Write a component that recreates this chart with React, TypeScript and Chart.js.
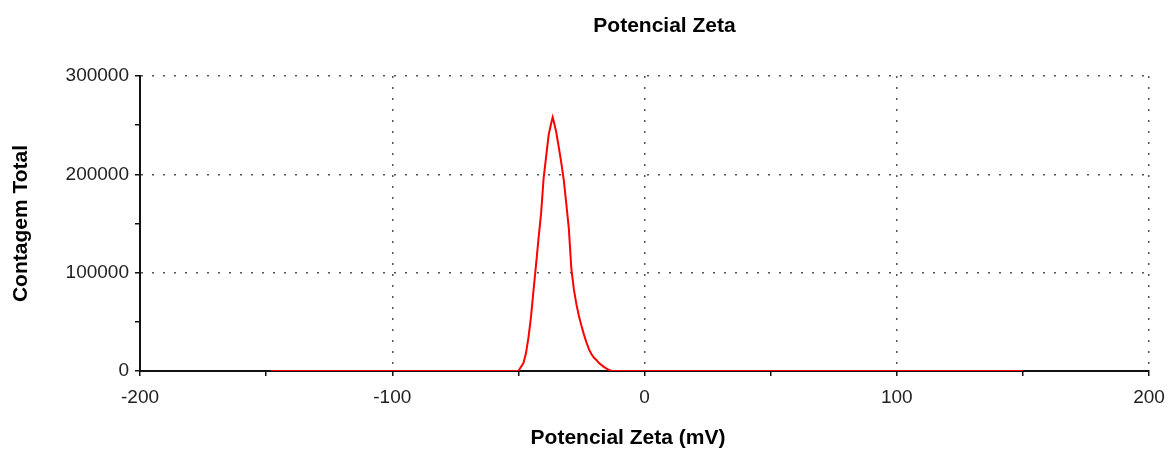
import React, { useEffect, useRef } from "react";
import { Chart, registerables } from "chart.js";

Chart.register(...registerables);

// Zeta potential distribution (mV) and total count per channel
const zetaPotential: number[] = [
  -148, -50, -48, -47, -46, -45, -44, -43, -42, -41, -40, -39, -38, -37, -36.4,
  -36, -35, -34, -33, -32, -31, -30, -29, -28, -27, -26, -25, -24, -23, -22,
  -21, -20, -19, -18, -17, -16, -15, -14, -13, 150,
];
const totalCount: number[] = [
  0, 0, 8000, 18000, 34000, 55000, 82000, 108000, 135000, 160000, 196000,
  218000, 240000, 252000, 258000, 254000, 243000, 228000, 212000, 194000,
  170000, 145000, 104000, 83000, 68000, 56000, 46000, 37000, 29000, 22000,
  17000, 13500, 11000, 8000, 6000, 4000, 2500, 1000, 0, 0,
];

const xTicks: number[] = [-200, -150, -100, -50, 0, 50, 100, 150, 200];
const yTicks: number[] = [0, 50000, 100000, 150000, 200000, 250000, 300000];

const chartTitle = "Potencial Zeta";
const xTitle = "Potencial Zeta (mV)";
const yTitle = "Contagem Total";

const FONT = '"Liberation Sans", Arial, sans-serif';

// Left edges of the top title and the bottom caption blocks (their right edge is the plot's right)
const TITLE_BLOCK_LEFT = 180;
const CAPTION_BLOCK_LEFT = 107;

const shiftTitles = {
  id: "shiftTitles",
  afterLayout(chart: any) {
    if (chart.titleBlock) chart.titleBlock.left = TITLE_BLOCK_LEFT;
    const caption = chart.boxes.find(
      (b: any) => b !== chart.titleBlock && b.options && b.options.text === xTitle
    );
    if (caption) caption.left = CAPTION_BLOCK_LEFT;
  },
};

export default function App() {
  const canvasRef = useRef<HTMLCanvasElement | null>(null);

  useEffect(() => {
    const canvas = canvasRef.current;
    if (!canvas) return;

    const points = zetaPotential.map((x, i) => ({ x, y: totalCount[i] }));
    const titleFont = { family: FONT, size: 21, weight: "bold", lineHeight: 1.2 };

    const chart = new Chart(canvas, {
      type: "line",
      data: {
        datasets: [
          {
            data: points,
            borderColor: "rgb(255,0,0)",
            borderWidth: 2,
            pointRadius: 0,
            tension: 0,
            fill: false,
          },
        ],
      },
      plugins: [shiftTitles],
      options: {
        animation: false,
        responsive: false,
        maintainAspectRatio: false,
        layout: { padding: { left: 0, right: 18, top: 0, bottom: 0 } },
        plugins: {
          legend: { display: false },
          tooltip: { enabled: false },
          title: {
            display: true,
            text: chartTitle,
            color: "#000",
            font: titleFont,
            padding: { top: 14, bottom: 36.8 },
          },
          subtitle: {
            display: true,
            position: "bottom",
            text: xTitle,
            color: "#000",
            font: titleFont,
            padding: { top: 0, bottom: 0 },
          },
        },
        scales: {
          x: {
            type: "linear",
            min: xTicks[0],
            max: xTicks[xTicks.length - 1],
            afterBuildTicks: (scale: any) => {
              scale.ticks = xTicks.map((v) => ({ value: v }));
            },
            afterFit: (scale: any) => {
              scale.height = 54.8;
              scale.paddingLeft = 0;
              scale.paddingRight = 0;
            },
            ticks: {
              color: "#222",
              font: { family: FONT, size: 19 },
              padding: 10,
              maxRotation: 0,
              autoSkip: false,
              callback: (v: any) => (Number(v) % 100 === 0 ? String(v) : ""),
            },
            grid: {
              color: (ctx: any) =>
                ctx.tick && ctx.tick.value % 100 === 0 ? "#555" : "rgba(0,0,0,0)",
              lineWidth: 1.5,
              tickColor: "#111",
              tickLength: 5,
              tickWidth: 1.5,
            },
            border: { display: true, color: "#111", width: 2, dash: [2, 9] },
          },
          y: {
            type: "linear",
            min: yTicks[0],
            max: yTicks[yTicks.length - 1],
            afterBuildTicks: (scale: any) => {
              scale.ticks = yTicks.map((v) => ({ value: v }));
            },
            afterFit: (scale: any) => {
              scale.width = 140;
            },
            ticks: {
              color: "#222",
              font: { family: FONT, size: 19 },
              padding: 6,
              autoSkip: false,
              callback: (v: any) => (Number(v) % 100000 === 0 ? String(v) : ""),
            },
            grid: {
              color: (ctx: any) =>
                ctx.tick && ctx.tick.value % 100000 === 0 && ctx.tick.value !== 0
                  ? "#555"
                  : "rgba(0,0,0,0)",
              lineWidth: 1.5,
              tickColor: "#111",
              tickLength: 5,
              tickWidth: 1.5,
            },
            border: { display: true, color: "#111", width: 2, dash: [2, 9] },
            title: {
              display: true,
              text: yTitle,
              color: "#000",
              font: titleFont,
              padding: { top: 9, bottom: 0 },
            },
          },
        },
      } as any,
    });

    return () => {
      chart.destroy();
    };
  }, []);

  return (
    <div style={{ position: "fixed", left: 0, top: 0, width: 1167, height: 451, background: "#fff" }}>
      <canvas ref={canvasRef} width={1167} height={451} />
    </div>
  );
}
